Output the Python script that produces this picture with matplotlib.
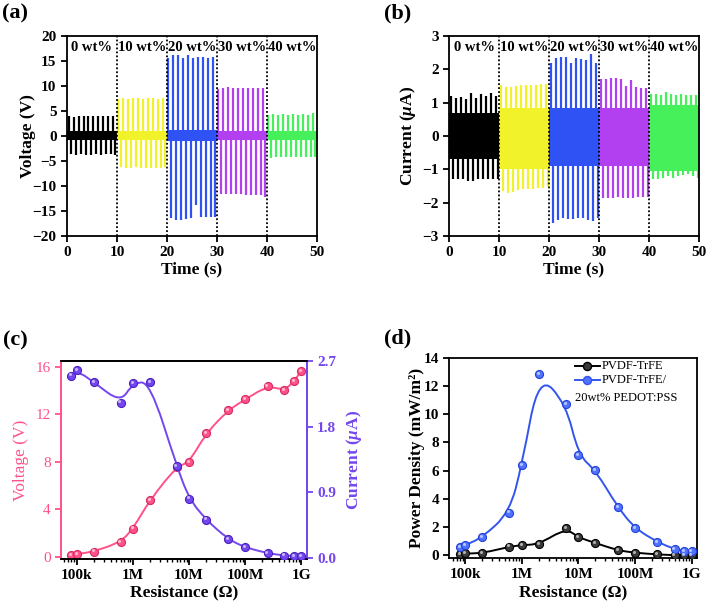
import matplotlib
matplotlib.use("Agg")
import numpy as np
import matplotlib.pyplot as plt
from matplotlib.path import Path
from matplotlib.patches import PathPatch
from matplotlib.ticker import LogLocator, FixedLocator, NullFormatter
from matplotlib.transforms import offset_copy

plt.rcParams["font.family"] = ["Liberation Serif", "DejaVu Serif"]
plt.rcParams["font.weight"] = "bold"
plt.rcParams["axes.linewidth"] = 1.3
plt.rcParams["mathtext.fontset"] = "custom"
plt.rcParams["mathtext.rm"] = "Liberation Serif:bold"
plt.rcParams["mathtext.it"] = "Liberation Serif:italic:bold"
plt.rcParams["mathtext.bf"] = "Liberation Serif:bold"

# ---- data: (a) / (b) traces ----
wt_labels = ["0 wt%", "10 wt%", "20 wt%", "30 wt%", "40 wt%"]
seg_starts = [0, 10, 20, 30, 40]
seg_colors = ["#000000", "#f2f22a", "#2f52f5", "#b23ff0", "#45f05a"]
pos_offsets = [0.3, 1.3, 2.3, 3.3, 4.3, 5.3, 6.3, 7.3, 8.3, 9.3]
neg_offsets = [0.75, 1.75, 2.75, 3.75, 4.75, 5.75, 6.75, 7.75, 8.75, 9.7]

volt_pos_0 = [3.9, 3.8, 3.9, 3.9, 4.0, 4.0, 3.9, 4.0, 3.9, 4.0]
volt_neg_0 = [-3.7, -3.8, -3.7, -3.9, -3.8, -3.7, -3.8, -3.7, -3.7, -3.8]
volt_pos_10 = [7.4, 7.5, 7.4, 7.5, 7.5, 7.4, 7.5, 7.5, 7.4, 7.5]
volt_neg_10 = [-6.2, -6.5, -6.4, -6.3, -6.4, -6.5, -6.4, -6.5, -6.4, -6.3]
volt_pos_20 = [15.6, 16.1, 16.1, 15.6, 16.1, 15.6, 15.7, 15.7, 15.6, 15.7]
volt_neg_20 = [-16.5, -16.9, -16.9, -16.7, -16.5, -13.8, -16.2, -16.2, -16.3, -16.3]
volt_pos_30 = [9.4, 9.5, 9.7, 9.5, 9.5, 9.5, 9.5, 9.5, 9.5, 9.5]
volt_neg_30 = [-11.6, -11.7, -11.7, -11.7, -11.7, -11.8, -11.8, -11.8, -11.9, -12.2]
volt_pos_40 = [4.1, 4.3, 4.2, 4.3, 4.2, 4.3, 4.2, 4.3, 4.2, 4.5]
volt_neg_40 = [-4.4, -4.3, -4.3, -4.3, -4.3, -4.3, -4.3, -4.3, -4.3, -4.3]
volt_band_hi = [0.9, 0.9, 1.1, 0.9, 0.9]
volt_band_lo = [-0.9, -0.9, -1.0, -0.9, -0.9]

curr_pos_0 = [1.2, 1.15, 1.17, 1.1, 1.3, 1.15, 1.25, 1.2, 1.3, 1.2]
curr_neg_0 = [-1.3, -1.3, -1.3, -1.35, -1.35, -1.3, -1.3, -1.3, -1.3, -1.3]
curr_pos_10 = [1.52, 1.48, 1.47, 1.5, 1.52, 1.52, 1.53, 1.52, 1.55, 1.56]
curr_neg_10 = [-1.65, -1.7, -1.68, -1.62, -1.6, -1.58, -1.6, -1.55, -1.55, -1.52]
curr_pos_20 = [2.2, 2.33, 2.38, 2.38, 2.2, 2.35, 2.3, 2.27, 2.45, 2.2]
curr_neg_20 = [-2.6, -2.52, -2.45, -2.5, -2.5, -2.45, -2.45, -2.52, -2.55, -2.45]
curr_pos_30 = [1.7, 1.72, 1.74, 1.74, 1.7, 1.5, 1.68, 1.47, 1.45, 1.45]
curr_neg_30 = [-1.86, -1.86, -1.86, -1.84, -1.86, -1.85, -1.86, -1.83, -1.84, -1.82]
curr_pos_40 = [1.25, 1.27, 1.24, 1.33, 1.25, 1.24, 1.25, 1.24, 1.24, 1.24]
curr_neg_40 = [-1.3, -1.28, -1.25, -1.2, -1.25, -1.2, -1.18, -1.15, -1.2, -1.25]
curr_band_hi = [0.7, 0.85, 0.83, 0.83, 0.92]
curr_band_lo = [-0.68, -0.98, -0.9, -0.9, -1.05]

# ---- data: (c) / (d) load resistance sweep ----
resistance = [8e4, 1e5, 2e5, 6e5, 1e6, 2e6, 6e6, 1e7, 2e7, 5e7, 1e8, 2.5e8, 5e8, 7.5e8, 1e9]
volt_R = [0.17, 0.23, 0.45, 1.24, 2.38, 4.79, 7.6, 7.96, 10.4, 12.36, 13.26, 14.4, 14.04, 14.8, 15.66]
curr_R = [2.5, 2.57, 2.41, 2.13, 2.4, 2.41, 1.26, 0.81, 0.52, 0.25, 0.14, 0.06, 0.027, 0.023, 0.023]
power_pure = [0.07, 0.12, 0.14, 0.6, 0.71, 0.78, 1.9, 1.26, 0.86, 0.34, 0.17, 0.05, 0.0, 0.0, 0.0]
power_comp = [0.55, 0.71, 1.26, 3.02, 6.4, 12.84, 10.73, 7.09, 6.02, 3.38, 1.9, 0.93, 0.43, 0.31, 0.26]
r_ticks = [1e5, 1e6, 1e7, 1e8, 1e9]
r_ticklabels = ["100k", "1M", "10M", "100M", "1G"]

PINK = "#ff5288"
VIOLET = "#7447ee"
BLUE = "#3355ee"
TICK_FS = 11


def draw_trace(ax, pos_sets, neg_sets, band_hi, band_lo):
    for i, start in enumerate(seg_starts):
        c = seg_colors[i]
        ax.fill_between([start, start + 10], band_lo[i], band_hi[i], color=c, lw=0, zorder=2)
        tp = [start + o for o in pos_offsets]
        tn = [start + o for o in neg_offsets]
        ax.vlines(tp, 0, pos_sets[i], color=c, lw=1.6, zorder=2)
        ax.vlines(tn, neg_sets[i], 0, color=c, lw=1.6, zorder=2)
    for b in seg_starts[1:]:
        ax.axvline(b, color="k", ls=(0, (1, 1.2)), lw=1.3, zorder=3)
    for i, start in enumerate(seg_starts):
        ax.text(start + 5, 0.94, wt_labels[i], transform=ax.get_xaxis_transform(),
                ha="center", va="center", fontsize=10.5, fontweight="bold")
    ax.set_xlim(0, 50)
    ax.set_xticks([0, 10, 20, 30, 40, 50])
    ax.set_xlabel("Time (s)", fontsize=12.5, fontweight="bold")
    ax.xaxis.set_label_coords(0.5, -0.125)
    ax.tick_params(direction="out", length=4, width=1.3, labelsize=TICK_FS)


def spline_path(x, y):
    # quadratic B-spline path through the data (control points = data points), in log-x
    lx = np.log10(x)
    y = np.asarray(y, float)
    verts = [(x[0], y[0])]
    codes = [Path.MOVETO]
    n = len(x)
    for i in range(1, n - 1):
        verts.append((x[i], y[i]))
        codes.append(Path.CURVE3)
        if i == n - 2:
            verts.append((x[-1], y[-1]))
        else:
            verts.append((10 ** ((lx[i] + lx[i + 1]) / 2), (y[i] + y[i + 1]) / 2))
        codes.append(Path.CURVE3)
    return Path(verts, codes)


def balls(ax, fig, x, y, color, edge, ms=5.8):
    ax.plot(x, y, ls="none", marker="o", ms=ms, mfc=color, mec=edge, mew=0.8, zorder=5)
    hl = offset_copy(ax.transData, fig=fig, x=-0.9, y=0.9, units="points")
    ax.plot(x, y, ls="none", marker="o", ms=ms * 0.38, mfc="white", mec="none",
            alpha=0.6, transform=hl, zorder=6)


def log_axis(ax):
    ax.set_xscale("log")
    ax.set_xlim(5.2e4, 1.25e9)
    ax.xaxis.set_major_locator(FixedLocator(r_ticks))
    ax.set_xticklabels(r_ticklabels)
    ax.xaxis.set_minor_locator(LogLocator(base=10, subs=np.arange(2, 10), numticks=20))
    ax.xaxis.set_minor_formatter(NullFormatter())
    ax.set_xlabel("Resistance (Ω)", fontsize=12.5, fontweight="bold")
    ax.xaxis.set_label_coords(0.5, -0.13)
    ax.tick_params(axis="x", which="major", direction="out", length=4, width=1.3, labelsize=TICK_FS)
    ax.tick_params(axis="x", which="minor", direction="out", length=2.2, width=1.0)


fig = plt.figure(figsize=(7.09, 6.04), dpi=100)

# (a)
ax_a = fig.add_axes([0.0945, 0.6093, 0.3526, 0.3311])
draw_trace(ax_a,
           [volt_pos_0, volt_pos_10, volt_pos_20, volt_pos_30, volt_pos_40],
           [volt_neg_0, volt_neg_10, volt_neg_20, volt_neg_30, volt_neg_40],
           volt_band_hi, volt_band_lo)
ax_a.set_ylim(-20, 20)
ax_a.set_yticks(np.arange(-20, 21, 5))
ax_a.set_ylabel("Voltage (V)", fontsize=12.5, fontweight="bold")
ax_a.yaxis.set_label_coords(-0.124, 0.5)

# (b)
ax_b = fig.add_axes([0.6333, 0.6093, 0.3526, 0.3311])
draw_trace(ax_b,
           [curr_pos_0, curr_pos_10, curr_pos_20, curr_pos_30, curr_pos_40],
           [curr_neg_0, curr_neg_10, curr_neg_20, curr_neg_30, curr_neg_40],
           curr_band_hi, curr_band_lo)
ax_b.set_ylim(-3, 3)
ax_b.set_yticks(np.arange(-3, 4, 1))
ax_b.set_ylabel(r"Current ($\mu$A)", fontsize=12.5, fontweight="bold")
ax_b.yaxis.set_label_coords(-0.124, 0.5)

# (c)
ax_c = fig.add_axes([0.086, 0.0745, 0.3466, 0.3278])
ax_c2 = ax_c.twinx()
log_axis(ax_c)
ax_c.add_patch(PathPatch(spline_path(resistance, volt_R), fill=False, ec=PINK, lw=1.4, zorder=3))
balls(ax_c, fig, resistance, volt_R, PINK, "#d62c63")
ax_c2.add_patch(PathPatch(spline_path(resistance, curr_R), fill=False, ec=VIOLET, lw=1.4, zorder=3))
balls(ax_c2, fig, resistance, curr_R, VIOLET, "#4a22c0")
ax_c.set_ylim(-0.18, 16.5)
ax_c.set_yticks([0, 4, 8, 12, 16])
ax_c2.set_ylim(-0.02, 2.7)
ax_c2.set_yticks([0.0, 0.9, 1.8, 2.7])
ax_c2.set_yticklabels(["0.0", "0.9", "1.8", "2.7"])
ax_c.tick_params(axis="y", direction="out", length=4, width=1.3, colors=PINK, labelsize=TICK_FS)
for t in ax_c.get_yticklabels():
    t.set_fontweight("normal")
ax_c2.tick_params(axis="y", direction="out", length=4, width=1.3, colors=VIOLET, labelsize=TICK_FS)
ax_c2.spines["left"].set_color(PINK)
ax_c2.spines["right"].set_color(VIOLET)
ax_c.spines["left"].set_color(PINK)
ax_c.spines["right"].set_color(VIOLET)
ax_c.set_ylabel("Voltage (V)", fontsize=12.5, fontweight="normal", color=PINK)
ax_c.yaxis.set_label_coords(-0.13, 0.5)
ax_c2.set_ylabel(r"Current ($\mu$A)", fontsize=12.5, fontweight="bold", color=VIOLET)
ax_c2.yaxis.set_label_coords(1.15, 0.5)

# (d)
ax_d = fig.add_axes([0.6337, 0.0762, 0.3494, 0.3316])
log_axis(ax_d)
ax_d.add_patch(PathPatch(spline_path(resistance, power_pure), fill=False, ec="k", lw=1.4, zorder=3))
ax_d.add_patch(PathPatch(spline_path(resistance, power_comp), fill=False, ec=BLUE, lw=1.4, zorder=3))
balls(ax_d, fig, resistance, power_pure, "#3a3a3a", "#000000")
balls(ax_d, fig, resistance, power_comp, "#4f72ff", "#2342d8")
ax_d.set_ylim(-0.2, 14)
ax_d.set_yticks(np.arange(0, 15, 2))
ax_d.tick_params(axis="y", direction="out", length=4, width=1.3, labelsize=TICK_FS)
ax_d.set_ylabel("Power Density (mW/m²)", fontsize=12.5, fontweight="bold")
ax_d.yaxis.set_label_coords(-0.098, 0.5)

# legend for (d), drawn by hand to keep the wrapped second label
leg_items = [("PVDF-TrFE", "k", "#3a3a3a", 0.960), ("PVDF-TrFE/", BLUE, "#4f72ff", 0.889)]
for label, lc, fc, yy in leg_items:
    ax_d.plot([0.507, 0.608], [yy, yy], color=lc, lw=1.4, transform=ax_d.transAxes, clip_on=False)
    ax_d.plot([0.557], [yy], marker="o", ms=5.8, mfc=fc, mec=lc, transform=ax_d.transAxes)
    ax_d.text(0.616, yy, label, transform=ax_d.transAxes, ha="left", va="center",
              fontsize=9, fontweight="normal")
ax_d.text(0.507, 0.799, "20wt% PEDOT:PSS", transform=ax_d.transAxes, ha="left", va="center",
          fontsize=9, fontweight="normal")

# panel letters
for lab, (px, py) in zip(["(a)", "(b)", "(c)", "(d)"], [(15, 13), (398, 13), (15, 340), (398, 338)]):
    fig.text(px / 709, 1 - py / 604, lab, ha="center", va="center", fontsize=16, fontweight="bold")

fig.savefig("out.png", dpi=100)
